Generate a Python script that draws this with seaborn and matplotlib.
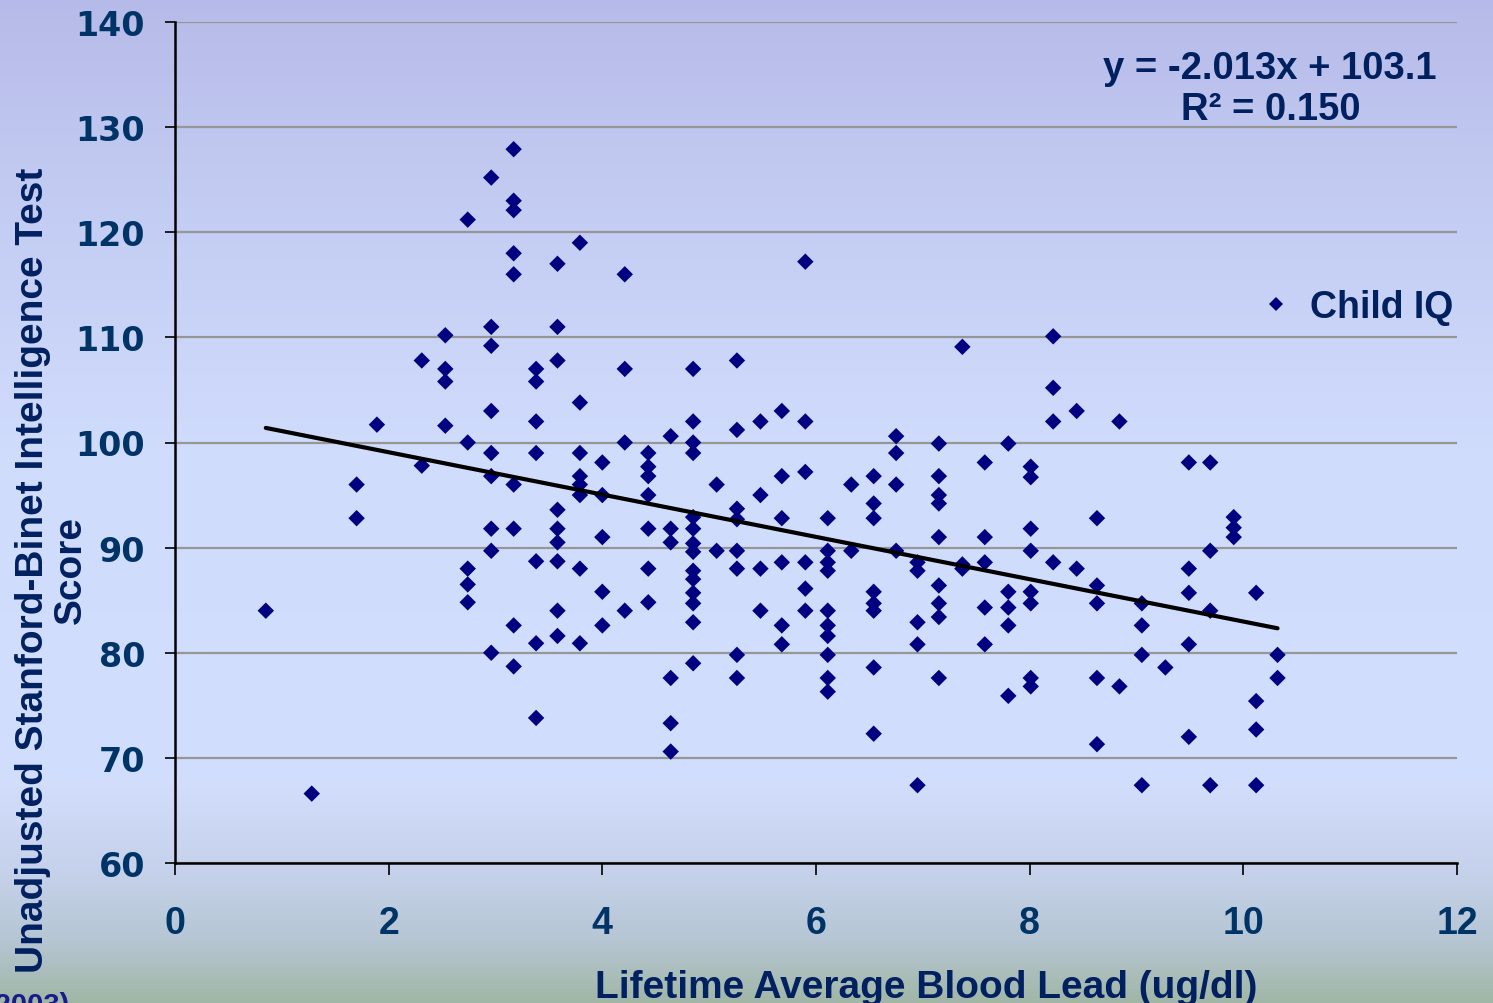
import numpy as np
import pandas as pd
import matplotlib
matplotlib.use("Agg")
import matplotlib.pyplot as plt
import seaborn as sns

# ---------------- data ----------------
lead = (
    [0.85] + [1.28] + [1.70] * 2 + [1.89] + [2.31] * 2 + [2.53] * 4 + [2.74] * 5
    + [2.96] * 9 + [3.17] * 9 + [3.38] * 7 + [3.58] * 9 + [3.79] * 8 + [4.00] * 5
    + [4.21] * 4 + [4.43] * 7 + [4.64] * 6 + [4.85] * 14 + [5.07] * 2 + [5.26] * 8
    + [5.48] * 4 + [5.68] * 6 + [5.90] * 6 + [6.11] * 10 + [6.33] * 2 + [6.54] * 8
    + [6.75] * 4 + [6.95] * 5 + [7.15] * 9 + [7.37] * 3 + [7.58] * 5 + [7.80] * 5
    + [8.01] * 8 + [8.22] * 4 + [8.44] * 2 + [8.63] * 5 + [8.84] * 2 + [9.05] * 4
    + [9.27] * 1 + [9.49] * 5 + [9.69] * 4 + [9.91] * 3 + [10.12] * 4 + [10.32] * 2
)
iq = [
    84.0,
    66.6,
    96.0, 92.8,
    101.7,
    107.8, 97.8,
    110.2, 107.0, 105.8, 101.6,
    121.2, 100.0, 88.0, 86.5, 84.8,
    125.2, 111.0, 109.2, 103.0, 99.0, 96.8, 91.8, 89.7, 80.0,
    127.9, 123.0, 122.1, 118.0, 116.0, 96.0, 91.8, 82.6, 78.7,
    107.0, 105.8, 102.0, 99.0, 88.7, 80.9, 73.8,
    117.0, 111.0, 107.8, 93.6, 91.8, 90.5, 88.7, 84.0, 81.6,
    119.0, 103.8, 99.0, 96.8, 96.0, 95.0, 88.0, 80.9,
    98.1, 95.0, 91.0, 85.8, 82.6,
    116.0, 107.0, 100.0, 84.0,
    99.0, 97.7, 96.8, 95.0, 91.8, 88.0, 84.8,
    100.6, 91.8, 90.5, 77.6, 73.3, 70.6,
    107.0, 102.0, 100.0, 99.0, 92.9, 91.8, 90.4, 89.6, 87.8, 87.0, 85.7, 84.7, 82.9, 79.0,
    96.0, 89.7,
    107.8, 101.2, 93.7, 92.7, 89.7, 88.0, 79.8, 77.6,
    102.0, 95.0, 88.0, 84.0,
    103.0, 96.8, 92.8, 88.6, 82.6, 80.8,
    117.2, 102.0, 97.2, 88.6, 86.1, 84.0,
    92.8, 89.7, 88.6, 87.8, 84.0, 82.6, 81.6, 79.8, 77.6, 76.3,
    96.0, 89.7,
    96.8, 94.2, 92.8, 85.8, 84.7, 84.0, 78.6, 72.3,
    100.6, 99.0, 96.0, 89.7,
    88.6, 87.8, 82.9, 80.8, 67.4,
    99.9, 96.8, 95.0, 94.2, 91.0, 86.4, 84.7, 83.4, 77.6,
    109.1, 88.4, 88.0,
    98.1, 91.0, 88.6, 84.3, 80.8,
    99.9, 85.8, 84.3, 82.6, 75.9,
    97.7, 96.7, 91.8, 89.7, 85.8, 84.7, 77.6, 76.8,
    110.1, 105.2, 102.0, 88.6,
    103.0, 88.0,
    92.8, 86.4, 84.7, 77.6, 71.3,
    102.0, 76.8,
    84.7, 82.6, 79.8, 67.4,
    78.6,
    98.1, 88.0, 85.7, 80.8, 72.0,
    98.1, 89.7, 84.0, 67.4,
    92.9, 91.9, 91.0,
    85.7, 75.4, 72.7, 67.4,
    79.8, 77.6,
]
slope = -2.013
intercept = 103.1
r_squared = 0.150
series_name = "Child IQ"
x_ticks = [0, 2, 4, 6, 8, 10, 12]
y_ticks = [60, 70, 80, 90, 100, 110, 120, 130, 140]
x_label = "Lifetime Average Blood Lead (ug/dl)"
y_label_line1 = "Unadjusted Stanford-Binet Intelligence Test"
y_label_line2 = "Score"
source_text = "(2003)"

df = pd.DataFrame({"lead": lead, "iq": iq, "series": series_name})

# ---------------- style ----------------
sns.set_style("ticks")
plt.rcParams["font.family"] = ["Liberation Sans", "DejaVu Sans"]

NAVY_TXT = "#002060"
TICK_TXT = "#003366"
MARK = "#000080"

W, H = 1493, 1004
fig = plt.figure(figsize=(W / 100, H / 100), dpi=100)

# background gradient (whole slide)
stops_y = [0, 150, 450, 780, 870, 940, 1004]
stops_c = [(182, 186, 232), (192, 200, 240), (208, 220, 252), (210, 222, 252),
           (198, 210, 235), (182, 198, 212), (160, 182, 165)]
rows = np.arange(H)
grad = np.zeros((H, 1, 3))
for k in range(3):
    grad[:, 0, k] = np.interp(rows, stops_y, [c[k] for c in stops_c]) / 255.0
bg = fig.add_axes([0, 0, 1, 1], zorder=-5)
bg.imshow(grad, aspect="auto", extent=[0, 1, 0, 1], origin="upper")
bg.axis("off")

L, R, T, B = 175, 1457, 23, 864
ax = fig.add_axes([L / W, 1 - B / H, (R - L) / W, (B - T) / H], zorder=1)
ax.patch.set_alpha(0)

sns.scatterplot(data=df, x="lead", y="iq", hue="series", palette=[MARK],
                marker="D", s=70, linewidth=0, ax=ax, zorder=3)

# trend line from the stated fit
xs = np.array([min(lead), max(lead)])
ax.plot(xs, slope * xs + intercept, color="black", lw=3, zorder=4,
        solid_capstyle="round")

ax.set_xlim(0, 12)
ax.set_ylim(60, 140)
ax.set_xticks(x_ticks)
ax.set_yticks(y_ticks)
ax.yaxis.grid(True, color="#969696", lw=1.6, zorder=1)
ax.xaxis.grid(False)
ax.set_axisbelow(True)
for s in ["top", "right"]:
    ax.spines[s].set_visible(False)
for s in ["left", "bottom"]:
    ax.spines[s].set_color("black")
    ax.spines[s].set_linewidth(1.8)
    ax.spines[s].set_zorder(5)

ax.tick_params(axis="y", direction="out", length=7.5, width=1.2, color="black",
               pad=14, labelsize=24, labelcolor=TICK_TXT)
ax.tick_params(axis="x", direction="out", length=8.5, width=1.2, color="black",
               pad=22, labelsize=27, labelcolor=TICK_TXT)
for lab in ax.get_yticklabels():
    lab.set_fontweight("bold")
    lab.set_family(["DejaVu Sans"])
for lab in ax.get_xticklabels():
    lab.set_fontweight("bold")

ax.set_xlabel(x_label, fontsize=28, fontweight="bold", color=NAVY_TXT,
              va="baseline", ha="center")
ax.xaxis.set_label_coords((926 - L) / (R - L), (B - 998) / (B - T))
ax.set_ylabel(y_label_line1, fontsize=28, fontweight="bold", color=NAVY_TXT,
              ha="center", va="center")
ax.yaxis.set_label_coords((33 - L) / (R - L), (B - 570) / (B - T))
ax.text((71 - L) / (R - L), (B - 570) / (B - T), y_label_line2, transform=ax.transAxes,
        rotation=90, ha="center", va="center", rotation_mode="anchor",
        fontsize=28, fontweight="bold", color=NAVY_TXT, clip_on=False)

# equation text
fig.text(1270 / W, 1 - 79 / H, f"y = {slope:.3f}x + {intercept:.1f}", ha="center",
         va="baseline", fontsize=27.5, fontweight="bold", color=NAVY_TXT)
fig.text(1271 / W, 1 - 120 / H, f"R\u00b2 = {r_squared:.3f}", ha="center",
         va="baseline", fontsize=27.5, fontweight="bold", color=NAVY_TXT)

# legend
leg = ax.legend(loc="center left", bbox_to_anchor=((1257 - L) / (R - L), (B - 308) / (B - T)),
                frameon=False, fontsize=27, handlelength=1.0, handletextpad=0.42,
                borderpad=0, borderaxespad=0, markerscale=1.0)
for h in leg.legend_handles:
    try:
        h.set_markersize(6.8)
    except AttributeError:
        h.set_sizes([46])
for t in leg.get_texts():
    t.set_fontweight("bold")
    t.set_color(NAVY_TXT)

# clipped source note bottom-left (cut off by the slide edge, as in the original)
fig.text(70 / W, 1 - 1014 / H, source_text, ha="right", va="baseline",
         fontsize=21, fontweight="bold", color="#1a1a8c")

fig.savefig("out.png", dpi=100)
